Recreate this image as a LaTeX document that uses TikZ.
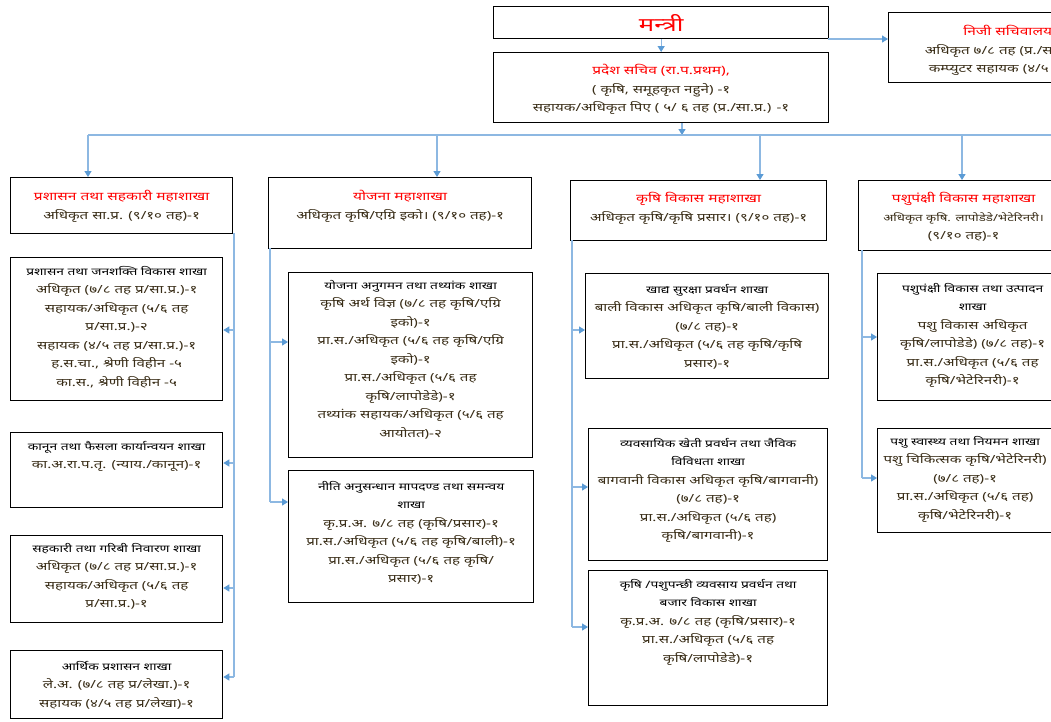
\documentclass[tikz,border=0pt]{standalone}
\usepackage{fontspec}
\newfontfamily\dev[Script=Devanagari, FakeStretch=1.35]{Noto Sans}
\usetikzlibrary{arrows.meta}
\definecolor{connc}{HTML}{8DB8E2}
\definecolor{arrc}{HTML}{5B9BD5}
\definecolor{bodyc}{HTML}{3A2E18}
\definecolor{hred}{HTML}{FF0000}
\newcommand\RedHead[1]{{\color{hred}\bfseries\fontsize{11.5}{18.5}\selectfont #1}}
\newcommand\BlkHead[1]{{\color{black}\bfseries\fontsize{10.2}{18.5}\selectfont #1}}
\tikzset{
  box/.style={draw=black, line width=1.3pt, inner sep=0pt, anchor=north west},
  txt/.style={anchor=north, align=center, inner sep=0pt, text=bodyc, font=\dev\fontsize{11.2}{18.5}\selectfont},
  conn/.style={draw=connc, line width=1.2pt},
  arr/.style={conn, -{Triangle[length=6pt,width=7pt,color=arrc]}}
}
\begin{document}
\begin{tikzpicture}[x=1pt,y=-1pt]
\useasboundingbox (0,0) rectangle (1051,721);
\clip (0,0) rectangle (1051,721);
\fill[white] (0,0) rectangle (1051,721);

% top
\node[box, minimum width=335, minimum height=32] (min) at (493,6) {};
\node[font=\dev\bfseries\fontsize{19}{20}\selectfont, text=hred, inner sep=0pt] (mint) at (min.center) {मन्त्री};
\node[box, minimum width=335, minimum height=70] (sec) at (493,52) {};
\node[txt] (sect) at ([yshift=-12pt]sec.north) {\RedHead{प्रदेश सचिव (रा.प.प्रथम),}\\( कृषि, समूहकृत नहुने) -१\\सहायक/अधिकृत पिए ( ५/ ६ तह (प्र./सा.प्र.) -१};
\node[box, minimum width=238, minimum height=70] (nij) at (888,12) {};
\node[txt] (nijt) at ([yshift=-13pt]nij.north) {\RedHead{निजी सचिवालय}\\अधिकृत ७/८ तह (प्र./सा.प्र.)-१\\कम्प्युटर सहायक (४/५ तह)-१};

% divisions
\node[box, minimum width=222, minimum height=56] (d1) at (10,177) {};
\node[txt] (d1t) at ([yshift=-13pt]d1.north) {\RedHead{प्रशासन तथा सहकारी महाशाखा}\\अधिकृत सा.प्र. (९/१० तह)-१};
\node[box, minimum width=263, minimum height=71] (d2) at (268,177) {};
\node[txt] (d2t) at ([yshift=-13pt]d2.north) {\RedHead{योजना महाशाखा}\\अधिकृत कृषि/एग्रि इको। (९/१० तह)-१};
\node[box, minimum width=256, minimum height=60] (d3) at (570,180) {};
\node[txt] (d3t) at ([yshift=-12pt]d3.north) {\RedHead{कृषि विकास महाशाखा}\\अधिकृत कृषि/कृषि प्रसार। (९/१० तह)-१};
\node[box, minimum width=210, minimum height=70] (d4) at (858,180) {};
\node[txt] (d4t) at ([yshift=-12pt]d4.north) {\RedHead{पशुपंक्षी विकास महाशाखा}\\{\fontsize{9.8}{18.5}\selectfont अधिकृत कृषि. लापोडेडे/भेटेरिनरी।}\\(९/१० तह)-१};

% branches col 1
\node[box, minimum width=212, minimum height=143] (b1a) at (10,257) {};
\node[txt] (b1at) at ([yshift=-9pt]b1a.north) {\BlkHead{प्रशासन तथा जनशक्ति विकास शाखा}\\अधिकृत (७/८ तह प्र/सा.प्र.)-१\\सहायक/अधिकृत (५/६ तह\\प्र/सा.प्र.)-२\\सहायक (४/५ तह प्र/सा.प्र.)-१\\ह.स.चा., श्रेणी विहीन -५\\का.स., श्रेणी विहीन -५};
\node[box, minimum width=212, minimum height=75] (b1b) at (10,432) {};
\node[txt] (b1bt) at ([yshift=-9pt]b1b.north) {\BlkHead{कानून तथा फैसला कार्यान्वयन शाखा}\\का.अ.रा.प.तृ. (न्याय./कानून)-१};
\node[box, minimum width=212, minimum height=87] (b1c) at (10,535) {};
\node[txt] (b1ct) at ([yshift=-8pt]b1c.north) {\BlkHead{सहकारी तथा गरिबी निवारण शाखा}\\अधिकृत (७/८ तह प्र/सा.प्र.)-१\\सहायक/अधिकृत (५/६ तह\\प्र/सा.प्र.)-१};
\node[box, minimum width=212, minimum height=68] (b1d) at (10,650) {};
\node[txt] (b1dt) at ([yshift=-11pt]b1d.north) {\BlkHead{आर्थिक प्रशासन शाखा}\\ले.अ. (७/८ तह प्र/लेखा.)-१\\सहायक (४/५ तह प्र/लेखा)-१};

% branches col 2
\node[box, minimum width=244, minimum height=185] (b2a) at (288,272) {};
\node[txt] (b2at) at ([yshift=-8pt]b2a.north) {\BlkHead{योजना अनुगमन तथा तथ्यांक शाखा}\\कृषि अर्थ विज्ञ (७/८ तह कृषि/एग्रि\\इको)-१\\प्रा.स./अधिकृत (५/६ तह कृषि/एग्रि\\इको)-१\\प्रा.स./अधिकृत (५/६ तह\\कृषि/लापोडेडे)-१\\तथ्यांक सहायक/अधिकृत (५/६ तह\\आयोतत)-२};
\node[box, minimum width=245, minimum height=132] (b2b) at (288,470) {};
\node[txt] (b2bt) at ([yshift=-11pt]b2b.north) {\BlkHead{नीति अनुसन्धान मापदण्ड तथा समन्वय}\\\BlkHead{शाखा}\\कृ.प्र.अ. ७/८ तह (कृषि/प्रसार)-१\\प्रा.स./अधिकृत (५/६ तह कृषि/बाली)-१\\प्रा.स./अधिकृत (५/६ तह कृषि/\\प्रसार)-१};

% branches col 3
\node[box, minimum width=243, minimum height=105] (b3a) at (585,273) {};
\node[txt] (b3at) at ([yshift=-11pt]b3a.north) {\BlkHead{खाद्य सुरक्षा प्रवर्धन शाखा}\\बाली विकास अधिकृत कृषि/बाली विकास)\\(७/८ तह)-१\\प्रा.स./अधिकृत (५/६ तह कृषि/कृषि\\प्रसार)-१};
\node[box, minimum width=239, minimum height=132] (b3b) at (588,428) {};
\node[txt] (b3bt) at ([yshift=-10pt]b3b.north) {\BlkHead{व्यवसायिक खेती प्रवर्धन तथा  जैविक}\\\BlkHead{विविधता शाखा}\\बागवानी विकास अधिकृत कृषि/बागवानी)\\(७/८ तह)-१\\प्रा.स./अधिकृत (५/६ तह)\\कृषि/बागवानी)-१};
\node[box, minimum width=239, minimum height=135] (b3c) at (588,570) {};
\node[txt] (b3ct) at ([yshift=-9pt]b3c.north) {\BlkHead{कृषि /पशुपन्छी व्यवसाय प्रवर्धन तथा}\\\BlkHead{बजार विकास शाखा}\\कृ.प्र.अ. ७/८ तह (कृषि/प्रसार)-१\\प्रा.स./अधिकृत (५/६ तह\\कृषि/लापोडेडे)-१};

% branches col 4
\node[box, minimum width=190, minimum height=127] (b4a) at (877,273) {};
\node[txt] (b4at) at ([yshift=-10pt]b4a.north) {\BlkHead{पशुपंक्षी विकास तथा उत्पादन}\\\BlkHead{शाखा}\\पशु विकास अधिकृत\\कृषि/लापोडेडे) (७/८ तह)-१\\प्रा.स./अधिकृत (५/६ तह\\कृषि/भेटेरिनरी)-१};
\node[box, minimum width=175, minimum height=104] (b4b) at (877,428) {};
\node[txt] (b4bt) at ([yshift=-8pt]b4b.north) {\BlkHead{पशु स्वास्थ्य तथा नियमन शाखा}\\पशु चिकित्सक कृषि/भेटेरिनरी)\\(७/८ तह)-१\\प्रा.स./अधिकृत (५/६ तह)\\कृषि/भेटेरिनरी)-१};

% connectors top
\draw[arr] (min.south) -- (sec.north);
\coordinate (nj) at (828,39);
\draw[arr] (nj) -- (nj -| nij.west);
\coordinate (busS) at (682,135);
\coordinate (busL) at (88,135);
\coordinate (busR) at (1060,135);
\draw[arr] (sec.south -| busS) -- (busS);
\draw[conn] (busL) -- (busR);
\draw[arr] (busL) -- (d1.north -| busL);
\coordinate (bus2) at (437,135);
\draw[arr] (bus2) -- (d2.north -| bus2);
\coordinate (bus3) at (760,135);
\draw[arr] (bus3) -- (d3.north -| bus3);
\coordinate (bus4) at (962,135);
\draw[arr] (bus4) -- (d4.north -| bus4);

% division 1 spine
\coordinate (v1t) at (234,233);
\coordinate (v1b) at (234,677);
\draw[conn] (v1t) -- (v1b);
\coordinate (a1a) at (234,330);
\coordinate (a1b) at (234,463);
\coordinate (a1c) at (234,588);
\draw[arr] (a1a) -- (a1a -| b1a.east);
\draw[arr] (a1b) -- (a1b -| b1b.east);
\draw[arr] (a1c) -- (a1c -| b1c.east);
\draw[arr] (v1b) -- (v1b -| b1d.east);

% division 2 spine
\coordinate (v2t) at (270,248);
\coordinate (v2b) at (270,502);
\draw[conn] (v2t) -- (v2b);
\coordinate (a2a) at (270,342);
\draw[arr] (a2a) -- (a2a -| b2a.west);
\draw[arr] (v2b) -- (v2b -| b2b.west);

% division 3 spine
\coordinate (v3t) at (572,240);
\coordinate (v3b) at (572,627);
\draw[conn] (v3t) -- (v3b);
\coordinate (a3a) at (572,330);
\coordinate (a3b) at (572,487);
\draw[arr] (a3a) -- (a3a -| b3a.west);
\draw[arr] (a3b) -- (a3b -| b3b.west);
\draw[arr] (v3b) -- (v3b -| b3c.west);

% division 4 spine
\coordinate (v4t) at (862,250);
\coordinate (v4b) at (862,478);
\draw[conn] (v4t) -- (v4b);
\coordinate (a4a) at (862,337);
\draw[arr] (a4a) -- (a4a -| b4a.west);
\draw[arr] (v4b) -- (v4b -| b4b.west);
\end{tikzpicture}
\end{document}
